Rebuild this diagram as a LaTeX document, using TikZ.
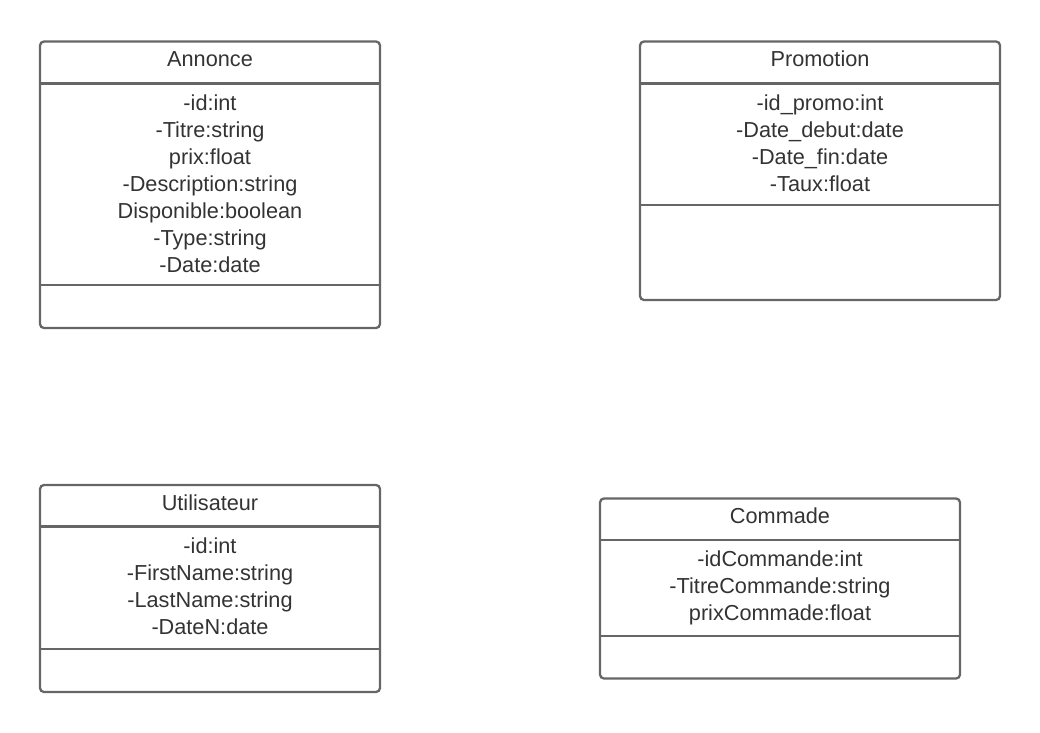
\documentclass[tikz,border=0pt]{standalone}
\usepackage{fontspec}
\setmainfont{Liberation Sans}
\definecolor{boxline}{HTML}{666666}
\definecolor{txt}{HTML}{333333}
\begin{document}
\begin{tikzpicture}[x=1pt,y=-1pt,
  box/.style={draw=boxline,line width=2.3pt,rounded corners=4pt},
  sep/.style={draw=boxline,line width=2.3pt},
  lbl/.style={anchor=base,inner sep=0pt,text=txt,font=\fontsize{21.7}{27}\selectfont}]
\useasboundingbox (0,0) rectangle (1040,732);
% Annonce
\draw[box] (40,41.5) rectangle (380,328);
\draw[sep] (40,83.5) -- (380,83.5);
\draw[sep] (40,285) -- (380,285);
\node[lbl] (a0) at (210,66) {Annonce};
\node[lbl] (a1) at (210,110) {-id:int};
\node[lbl] (a2) at (210,137) {-Titre:string};
\node[lbl] (a3) at (210,164) {prix:float};
\node[lbl] (a4) at (210,191) {-Description:string};
\node[lbl] (a5) at (210,218) {Disponible:boolean};
\node[lbl] (a6) at (210,245) {-Type:string};
\node[lbl] (a7) at (210,272) {-Date:date};
% Promotion
\draw[box] (640,41.5) rectangle (1000,300);
\draw[sep] (640,83.5) -- (1000,83.5);
\draw[sep] (640,205) -- (1000,205);
\node[lbl] (p0) at (820,66) {Promotion};
\node[lbl] (p1) at (820,110) {-id\_promo:int};
\node[lbl] (p2) at (820,137) {-Date\_debut:date};
\node[lbl] (p3) at (820,164) {-Date\_fin:date};
\node[lbl] (p4) at (820,191) {-Taux:float};
% Utilisateur
\draw[box] (40,485) rectangle (380,692);
\draw[sep] (40,526.5) -- (380,526.5);
\draw[sep] (40,649) -- (380,649);
\node[lbl] (u0) at (210,510) {Utilisateur};
\node[lbl] (u1) at (210,553) {-id:int};
\node[lbl] (u2) at (210,580) {-FirstName:string};
\node[lbl] (u3) at (210,607) {-LastName:string};
\node[lbl] (u4) at (210,634) {-DateN:date};
% Commade
\draw[box] (600,498.5) rectangle (960,678.5);
\draw[sep] (600,540) -- (960,540);
\draw[sep] (600,636) -- (960,636);
\node[lbl] (c0) at (780,523) {Commade};
\node[lbl] (c1) at (780,566) {-idCommande:int};
\node[lbl] (c2) at (780,593) {-TitreCommande:string};
\node[lbl] (c3) at (780,620) {prixCommade:float};
\end{tikzpicture}
\end{document}
